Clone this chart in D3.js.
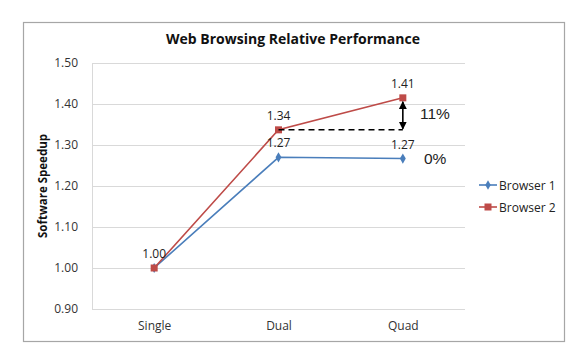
<!DOCTYPE html>
<html><head><meta charset="utf-8">
<script src="https://cdn.jsdelivr.net/npm/d3@7"></script>
<style>body{margin:0;background:#fff;}svg{display:block;font-family:"Open Sans","Liberation Sans",sans-serif;}</style>
</head><body>
<svg id="c" width="588" height="356"></svg>
<script>
const categories = ["Single", "Dual", "Quad"];
const browser1 = [1.00, 1.27, 1.267];
const browser2 = [1.00, 1.337, 1.415];
const labels1 = ["1.00", "1.27", "1.27"];
const labels2 = ["1.00", "1.34", "1.41"];
const yTicks = [0.90, 1.00, 1.10, 1.20, 1.30, 1.40, 1.50];
const seriesNames = ["Browser 1", "Browser 2"];
const colors = ["#4a7ebb", "#be4b48"];

const svg = d3.select("#c");
svg.append("rect").attr("x", 23.5).attr("y", 22.5).attr("width", 541).attr("height", 319)
  .attr("fill", "#fff").attr("stroke", "#a6a6a6").attr("stroke-width", 1.2);

const x = d3.scalePoint().domain(categories).range([92, 465]).padding(0.5);
const y = d3.scaleLinear().domain([0.9, 1.5]).range([309, 63]);

// gridlines
svg.append("g").selectAll("line").data(yTicks).join("line")
  .attr("x1", 92).attr("x2", 465).attr("y1", d => y(d) + 0.5).attr("y2", d => y(d) + 0.5)
  .attr("stroke", "#d9d9d9").attr("stroke-width", 1);
svg.append("line").attr("x1", 92.5).attr("x2", 92.5).attr("y1", 63).attr("y2", 309)
  .attr("stroke", "#d9d9d9");

// y axis labels
const yAxis = d3.axisLeft(y).tickValues(yTicks).tickFormat(d3.format(".2f")).tickSize(0).tickPadding(14);
const ya = svg.append("g").attr("transform", "translate(92,0)").call(yAxis);
ya.select(".domain").remove();
ya.selectAll("text").attr("font-size", 12).attr("fill", "#333").attr("font-family", "'Open Sans',sans-serif");

// x axis labels
const xAxis = d3.axisBottom(x).tickSize(0).tickPadding(12);
const xa = svg.append("g").attr("transform", "translate(0,309)").call(xAxis);
xa.select(".domain").remove();
xa.selectAll("text").attr("font-size", 12).attr("fill", "#333").attr("font-family", "'Open Sans',sans-serif");

// title
svg.append("text").attr("x", 293).attr("y", 44).attr("text-anchor", "middle")
  .attr("font-size", 14).attr("font-weight", "bold").attr("fill", "#111")
  .text("Web Browsing Relative Performance");
svg.append("text").attr("transform", "translate(47,186) rotate(-90)").attr("text-anchor", "middle")
  .attr("font-size", 11.5).attr("font-weight", "bold").attr("fill", "#111")
  .text("Software Speedup");

// lines
const line = d3.line().x((d, i) => x(categories[i])).y(d => y(d));
[browser1, browser2].forEach((s, k) => {
  svg.append("path").datum(s).attr("d", line).attr("fill", "none")
    .attr("stroke", colors[k]).attr("stroke-width", 1.6);
});
// markers
svg.append("g").selectAll("path").data(browser1).join("path")
  .attr("transform", (d, i) => `translate(${x(categories[i])},${y(d)})`)
  .attr("d", d3.symbol(d3.symbolDiamond, 30)).attr("fill", colors[0]);
svg.append("g").selectAll("rect").data(browser2).join("rect")
  .attr("x", (d, i) => x(categories[i]) - 3.5).attr("y", d => y(d) - 3.5)
  .attr("width", 7).attr("height", 7).attr("fill", colors[1]);

// data labels
const lblFont = 12;
svg.append("g").selectAll("text").data(browser1).join("text")
  .attr("x", (d, i) => x(categories[i])).attr("y", d => y(d) - 10)
  .attr("text-anchor", "middle").attr("font-size", lblFont).attr("fill", "#222")
  .text((d, i) => i === 0 ? "" : labels1[i]);
svg.append("g").selectAll("text").data(browser2).join("text")
  .attr("x", (d, i) => x(categories[i])).attr("y", d => y(d) - 10)
  .attr("text-anchor", "middle").attr("font-size", lblFont).attr("fill", "#222")
  .text((d, i) => labels2[i]);

// annotation: dashed line + arrow
const xd = x("Dual"), xq = x("Quad");
svg.append("line").attr("x1", xd).attr("x2", xq).attr("y1", y(browser2[1])).attr("y2", y(browser2[1]))
  .attr("stroke", "#000").attr("stroke-width", 1.5).attr("stroke-dasharray", "6,4");
const defs = svg.append("defs");
defs.append("marker").attr("id", "ah").attr("viewBox", "0 0 10 10").attr("refX", 9).attr("refY", 5)
  .attr("markerWidth", 5).attr("markerHeight", 5).attr("orient", "auto-start-reverse")
  .attr("markerUnits", "strokeWidth")
  .append("path").attr("d", "M0,0 L10,5 L0,10 Z").attr("fill", "#000");
svg.append("line").attr("x1", xq).attr("x2", xq).attr("y1", y(browser2[2]) + 4).attr("y2", y(browser2[1]) - 1)
  .attr("stroke", "#000").attr("stroke-width", 1.6)
  .attr("marker-start", "url(#ah)").attr("marker-end", "url(#ah)");
svg.append("text").attr("x", 420).attr("y", 119).attr("font-size", 15.5).attr("fill", "#222")
  .attr("font-family", "'Liberation Sans',sans-serif").text("11%");
svg.append("text").attr("x", 424).attr("y", 164).attr("font-size", 15.5).attr("fill", "#222")
  .attr("font-family", "'Liberation Sans',sans-serif").text("0%");

// legend
const lg = svg.append("g");
seriesNames.forEach((n, k) => {
  const ly = 185 + k * 22;
  lg.append("line").attr("x1", 479).attr("x2", 497).attr("y1", ly).attr("y2", ly)
    .attr("stroke", colors[k]).attr("stroke-width", 1.6);
  if (k === 0) lg.append("path").attr("transform", `translate(488,${ly})`)
    .attr("d", d3.symbol(d3.symbolDiamond, 26)).attr("fill", colors[0]);
  else lg.append("rect").attr("x", 484.5).attr("y", ly - 3.5).attr("width", 7).attr("height", 7).attr("fill", colors[1]);
  lg.append("text").attr("x", 499).attr("y", ly + 4.5).attr("font-size", 12).attr("fill", "#222").text(n);
});
</script>
</body></html>
